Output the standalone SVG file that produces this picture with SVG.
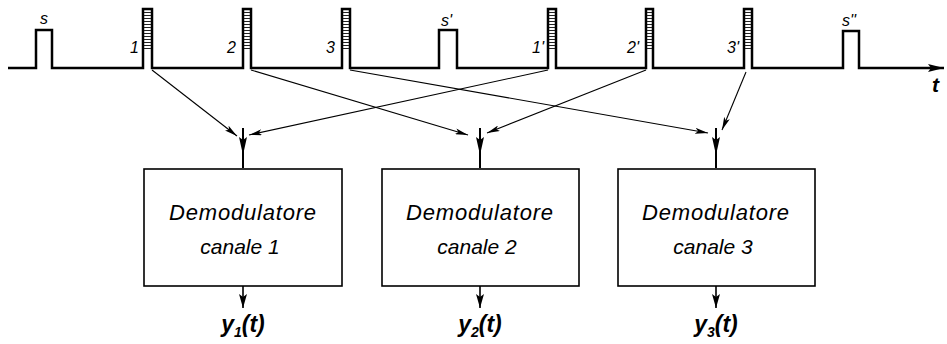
<svg xmlns="http://www.w3.org/2000/svg" width="947" height="344" viewBox="0 0 947 344">
<style>
.wave{fill:none;stroke:#000;stroke-width:2.5;stroke-linejoin:miter}
.conn{fill:none;stroke:#000;stroke-width:1.1}
.feed{fill:none;stroke:#000;stroke-width:2}
.outl{fill:none;stroke:#000;stroke-width:1.6}
.box{fill:#fff;stroke:#000;stroke-width:1.6}
.lbl{font-family:"Liberation Sans",Arial,sans-serif;font-style:italic;font-size:16px;fill:#000}
.btxt{font-family:"Liberation Sans",Arial,sans-serif;font-style:italic;font-size:22px;letter-spacing:0.8px;fill:#000;text-anchor:middle}
.ctxt{font-family:"Liberation Sans",Arial,sans-serif;font-style:italic;font-size:21px;fill:#000;text-anchor:middle}
.out{font-family:"Liberation Sans",Arial,sans-serif;font-style:italic;font-weight:bold;font-size:23px;fill:#000;text-anchor:middle}
.hatch{fill:url(#hp);stroke:none}
</style>
<defs>
<pattern id="hp" x="0" y="9" width="10" height="3" patternUnits="userSpaceOnUse">
<rect x="0" y="0" width="10" height="1" fill="#222"/>
</pattern>
<marker id="ah" markerWidth="13" markerHeight="6" refX="13" refY="3" orient="auto" markerUnits="userSpaceOnUse">
<path d="M0,0 L13,3 L0,6 L3,3 z" fill="#000"/>
</marker>
<marker id="ahf" markerWidth="18" markerHeight="8" refX="18" refY="4" orient="auto" markerUnits="userSpaceOnUse">
<path d="M0,0 L18,4 L0,8 L3,4 z" fill="#000"/>
</marker>
<marker id="aho" markerWidth="14" markerHeight="8" refX="14" refY="4" orient="auto" markerUnits="userSpaceOnUse">
<path d="M0,0 L14,4 L0,8 L3,4 z" fill="#000"/>
</marker>
<marker id="ahb" markerWidth="16" markerHeight="8" refX="16" refY="4" orient="auto" markerUnits="userSpaceOnUse">
<path d="M0,0 L16,4 L0,8 L3,4 z" fill="#000"/>
</marker>
</defs>

<g id="signal">
<path class="wave" marker-end="url(#ahb)" d="M8,68 H36 V30 H52 V68 H143 V9 H152 V68 H243 V9 H251 V68 H342 V9 H350 V68 H439 V30 H457 V68 H548 V9 H556 V68 H646 V9 H653 V68 H744 V9 H752 V68 H843 V31 H859 V68 H944"/>
<rect class="hatch" x="144" y="10" width="7" height="39"/>
<rect class="hatch" x="244" y="10" width="6" height="39"/>
<rect class="hatch" x="343" y="10" width="6" height="39"/>
<rect class="hatch" x="549" y="10" width="6" height="39"/>
<rect class="hatch" x="647" y="10" width="5" height="39"/>
<rect class="hatch" x="745" y="10" width="6" height="39"/>
<text class="lbl" x="40" y="24">s</text>
<text class="lbl" x="130" y="53">1</text>
<text class="lbl" x="227" y="53">2</text>
<text class="lbl" x="326" y="53">3</text>
<text class="lbl" x="441" y="26">s'</text>
<text class="lbl" x="532" y="53">1'</text>
<text class="lbl" x="627" y="53">2'</text>
<text class="lbl" x="727" y="53">3'</text>
<text class="lbl" x="842" y="26">s''</text>
<text class="lbl" x="932" y="92" style="font-size:21px;font-weight:bold">t</text>
</g>

<g id="connectors">
<line class="conn" x1="152" y1="70" x2="237" y2="136" marker-end="url(#ah)"/>
<line class="conn" x1="548" y1="70" x2="249" y2="135" marker-end="url(#ah)"/>
<line class="conn" x1="251" y1="70" x2="468" y2="135" marker-end="url(#ah)"/>
<line class="conn" x1="646" y1="70" x2="487" y2="133" marker-end="url(#ah)"/>
<line class="conn" x1="350" y1="70" x2="708" y2="133" marker-end="url(#ah)"/>
<line class="conn" x1="746" y1="72" x2="722" y2="130" marker-end="url(#ah)"/>
<line class="feed" x1="243" y1="128" x2="243" y2="168"/>
<line class="feed" x1="243" y1="128" x2="243" y2="155" marker-end="url(#ahf)"/>
<line class="feed" x1="480" y1="128" x2="480" y2="168"/>
<line class="feed" x1="480" y1="128" x2="480" y2="155" marker-end="url(#ahf)"/>
<line class="feed" x1="716" y1="128" x2="716" y2="168"/>
<line class="feed" x1="716" y1="128" x2="716" y2="155" marker-end="url(#ahf)"/>
<line class="outl" x1="243" y1="286" x2="243" y2="308" marker-end="url(#aho)"/>
<line class="outl" x1="480" y1="286" x2="480" y2="308" marker-end="url(#aho)"/>
<line class="outl" x1="716" y1="286" x2="716" y2="308" marker-end="url(#aho)"/>
</g>

<g id="demod1">
<rect class="box" x="144" y="169" width="198" height="117"/>
<text class="btxt" x="243" y="220">Demodulatore</text>
<text class="ctxt" x="240" y="254">canale 1</text>
</g>
<g id="demod2">
<rect class="box" x="382" y="169" width="197" height="117"/>
<text class="btxt" x="480" y="220">Demodulatore</text>
<text class="ctxt" x="477" y="254">canale 2</text>
</g>
<g id="demod3">
<rect class="box" x="618" y="169" width="197" height="117"/>
<text class="btxt" x="716" y="220">Demodulatore</text>
<text class="ctxt" x="713" y="254">canale 3</text>
</g>

<g id="out1"><text class="out" x="243" y="332">y<tspan font-size="14" dy="5">1</tspan><tspan dy="-5">(t)</tspan></text></g>
<g id="out2"><text class="out" x="480" y="332">y<tspan font-size="14" dy="5">2</tspan><tspan dy="-5">(t)</tspan></text></g>
<g id="out3"><text class="out" x="716" y="332">y<tspan font-size="14" dy="5">3</tspan><tspan dy="-5">(t)</tspan></text></g>
</svg>
